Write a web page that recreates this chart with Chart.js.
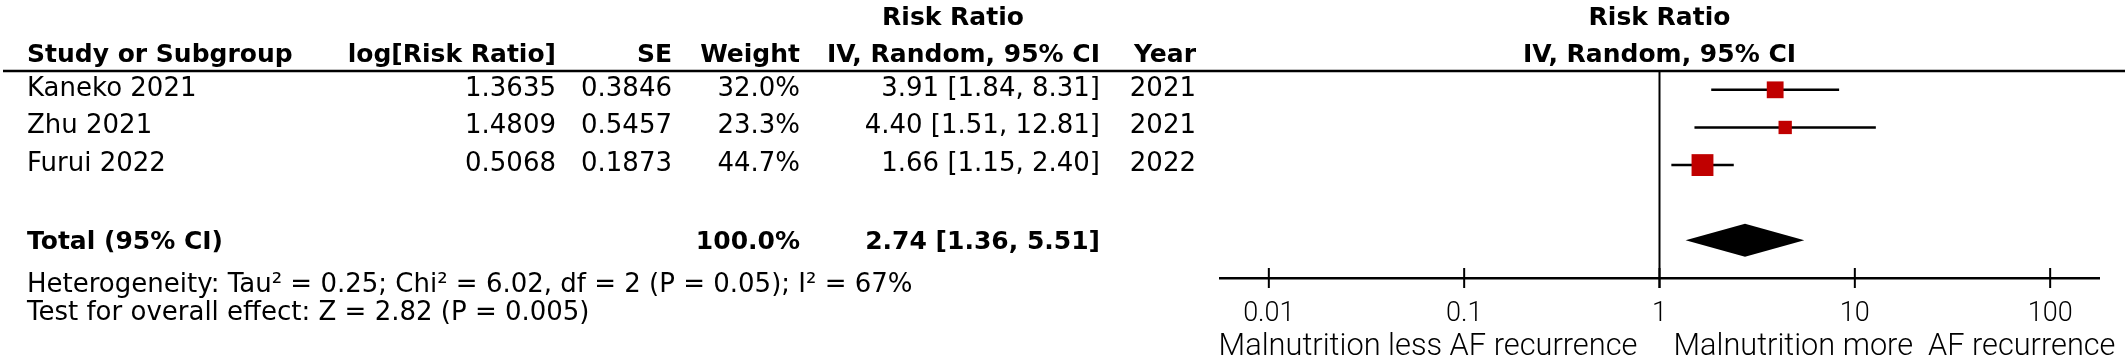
<!DOCTYPE html>
<html>
<head>
<meta charset="utf-8">
<script src="https://cdn.jsdelivr.net/npm/chart.js@4.4.1/dist/chart.umd.min.js"></script>
<style>
  html, body { margin: 0; padding: 0; background: #fff; }
  #wrap { width: 2128px; height: 359px; position: relative; }
</style>
</head>
<body>
<div id="wrap"><canvas id="forest"></canvas></div>
<script>
// study level data
const studies = ["Kaneko 2021", "Zhu 2021", "Furui 2022"];
const logRR = [1.3635, 1.4809, 0.5068];
const stdErr = [0.3846, 0.5457, 0.1873];
const weights = [32.0, 23.3, 44.7];
const riskRatio = [3.91, 4.40, 1.66];
const ciLow = [1.84, 1.51, 1.15];
const ciHigh = [8.31, 12.81, 2.40];
const years = [2021, 2021, 2022];
const studyRows = [0.5, 1.5, 2.5];

// pooled estimate: [estimate, lower, upper]
const pooledRR = [2.74, 1.36, 5.51];
const totalWeight = 100.0;
const totalRow = 4.5;

const xTicks = [0.01, 0.1, 1, 10, 100];
const heterogeneityText = "Heterogeneity: Tau² = 0.25; Chi² = 6.02, df = 2 (P = 0.05); I² = 67%";
const overallText = "Test for overall effect: Z = 2.82 (P = 0.005)";
const favoursLeft = "Malnutrition less AF recurrence";
const favoursRight = "Malnutrition more  AF recurrence";

const TABLE_FONT = "26px 'DejaVu Sans'";
const TABLE_BOLD = "bold 25px 'DejaVu Sans'";

// column anchors (right edges unless noted)
const COL_STUDY = 27; // left edge
const COL_LOG = 556;
const COL_SE = 672;
const COL_WEIGHT = 800;
const COL_CI = 1100;
const COL_YEAR = 1196;

function fmtCI(est, lo, hi) {
  return `${est.toFixed(2)} [${lo.toFixed(2)}, ${hi.toFixed(2)}]`;
}

function text(ctx, str, x, y, align, font, maxWidth) {
  ctx.font = font;
  ctx.textAlign = align;
  ctx.textBaseline = "alphabetic";
  ctx.fillStyle = "#000";
  if (maxWidth) ctx.fillText(str, x, y, maxWidth);
  else ctx.fillText(str, x, y);
}

const forestPlugin = {
  id: "forest",
  beforeDatasetsDraw(chart) {
    const { ctx, chartArea, scales } = chart;
    const x1 = scales.x.getPixelForValue(1);
    ctx.save();
    // header rule
    ctx.strokeStyle = "#000";
    ctx.lineWidth = 2.5;
    ctx.beginPath();
    ctx.moveTo(3, chartArea.top);
    ctx.lineTo(2125, chartArea.top);
    ctx.stroke();
    // line of no effect
    ctx.lineWidth = 2;
    ctx.beginPath();
    ctx.moveTo(x1, chartArea.top);
    ctx.lineTo(x1, chartArea.bottom + 10);
    ctx.stroke();
    ctx.restore();
  },
  afterDatasetsDraw(chart) {
    const { ctx, chartArea, scales } = chart;
    const xs = scales.x, ys = scales.y;
    ctx.save();

    // pooled diamond
    const yc = ys.getPixelForValue(totalRow);
    ctx.fillStyle = "#000";
    ctx.beginPath();
    ctx.moveTo(xs.getPixelForValue(pooledRR[1]), yc);
    ctx.lineTo(xs.getPixelForValue(pooledRR[0]), yc - 16.5);
    ctx.lineTo(xs.getPixelForValue(pooledRR[2]), yc);
    ctx.lineTo(xs.getPixelForValue(pooledRR[0]), yc + 16.5);
    ctx.closePath();
    ctx.fill();

    // axis tick marks, centred on the axis line
    ctx.strokeStyle = "#000";
    ctx.lineWidth = 2;
    xTicks.forEach((v) => {
      const px = xs.getPixelForValue(v);
      ctx.beginPath();
      ctx.moveTo(px, chartArea.bottom - 10);
      ctx.lineTo(px, chartArea.bottom + 10);
      ctx.stroke();
    });

    // right-hand header
    const x1 = xs.getPixelForValue(1);
    text(ctx, "Risk Ratio", x1, 25, "center", TABLE_BOLD);
    text(ctx, "IV, Random, 95% CI", x1, 62, "center", TABLE_BOLD);

    // favours labels
    const favFont = "300 31px Roboto";
    text(ctx, favoursLeft, x1 - 22, 355, "right", favFont, 419);
    text(ctx, favoursRight, x1 + 14, 355, "left", favFont, 442);

    // left table
    text(ctx, "Risk Ratio", 953, 25, "center", TABLE_BOLD);
    text(ctx, "Study or Subgroup", COL_STUDY, 62, "left", TABLE_BOLD);
    text(ctx, "log[Risk Ratio]", COL_LOG, 62, "right", TABLE_BOLD);
    text(ctx, "SE", COL_SE, 62, "right", TABLE_BOLD);
    text(ctx, "Weight", COL_WEIGHT, 62, "right", TABLE_BOLD);
    text(ctx, "IV, Random, 95% CI", COL_CI, 62, "right", TABLE_BOLD);
    text(ctx, "Year", COL_YEAR, 62, "right", TABLE_BOLD);

    studies.forEach((name, i) => {
      const y = ys.getPixelForValue(studyRows[i]) + 6;
      text(ctx, name, COL_STUDY, y, "left", TABLE_FONT);
      text(ctx, logRR[i].toFixed(4), COL_LOG, y, "right", TABLE_FONT);
      text(ctx, stdErr[i].toFixed(4), COL_SE, y, "right", TABLE_FONT);
      text(ctx, weights[i].toFixed(1) + "%", COL_WEIGHT, y, "right", TABLE_FONT);
      text(ctx, fmtCI(riskRatio[i], ciLow[i], ciHigh[i]), COL_CI, y, "right", TABLE_FONT);
      text(ctx, String(years[i]), COL_YEAR, y, "right", TABLE_FONT);
    });

    const ty = yc + 9;
    text(ctx, "Total (95% CI)", COL_STUDY, ty, "left", TABLE_BOLD);
    text(ctx, totalWeight.toFixed(1) + "%", COL_WEIGHT, ty, "right", TABLE_BOLD);
    text(ctx, fmtCI(pooledRR[0], pooledRR[1], pooledRR[2]), COL_CI, ty, "right", TABLE_BOLD);
    text(ctx, heterogeneityText, COL_STUDY, yc + 52, "left", TABLE_FONT);
    text(ctx, overallText, COL_STUDY, yc + 80, "left", TABLE_FONT);

    ctx.restore();
  },
};

const whiskerData = [];
studies.forEach((s, i) => {
  whiskerData.push({ x: ciLow[i], y: studyRows[i] });
  whiskerData.push({ x: ciHigh[i], y: studyRows[i] });
  whiskerData.push({ x: null, y: null });
});

new Chart(document.getElementById("forest"), {
  type: "scatter",
  data: {
    datasets: [
      {
        label: "Risk ratio",
        order: 0,
        data: studies.map((s, i) => ({ x: riskRatio[i], y: studyRows[i] })),
        pointStyle: "rect",
        // square side grows with study weight
        pointRadius: (c) => (4 + 0.4 * weights[c.dataIndex]) / Math.SQRT2,
        backgroundColor: "#c00000",
        borderColor: "#c00000",
        borderWidth: 0,
      },
      {
        label: "95% CI",
        order: 1,
        data: whiskerData,
        showLine: true,
        spanGaps: false,
        borderColor: "#000",
        borderWidth: 2.5,
        pointRadius: 0,
      },
    ],
  },
  options: {
    responsive: true,
    maintainAspectRatio: false,
    animation: false,
    layout: { padding: { left: 1220, right: 29, top: 71, bottom: 0 } },
    plugins: { legend: { display: false }, tooltip: { enabled: false } },
    scales: {
      x: {
        type: "logarithmic",
        min: Math.pow(10, -2.25),
        max: Math.pow(10, 2.25),
        afterBuildTicks: (s) => { s.ticks = xTicks.map((v) => ({ value: v })); },
        afterFit: (s) => { s.height = 81; },
        grid: { display: false },
        border: { display: true, color: "#000", width: 2.5 },
        ticks: {
          padding: 12,
          color: "#000",
          font: { family: "Roboto", size: 27, weight: "300" },
          callback: (v) => String(v),
          autoSkip: false,
          maxRotation: 0,
        },
      },
      y: {
        display: false,
        reverse: true,
        min: 0,
        max: 5.5,
      },
    },
  },
  plugins: [forestPlugin],
});
</script>
</body>
</html>
